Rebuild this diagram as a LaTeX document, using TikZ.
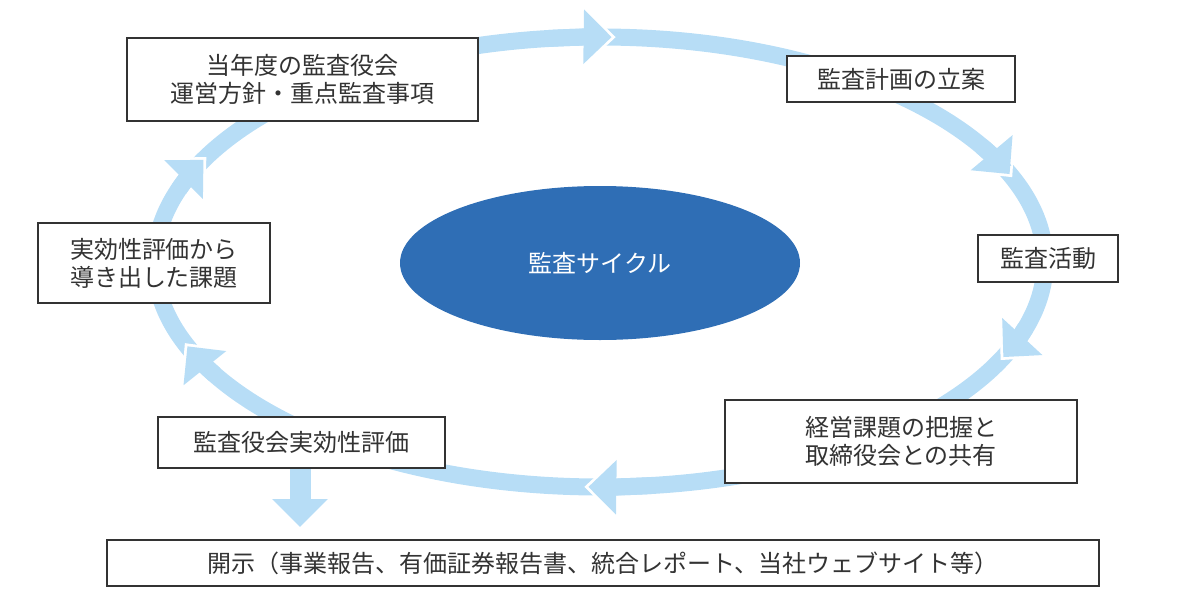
\documentclass[tikz,border=0pt]{standalone}
\usepackage{fontspec}
\setmainfont{Noto Sans CJK JP}
\usetikzlibrary{arrows.meta,shapes.geometric}
\definecolor{ringblue}{HTML}{B7DDF6}
\definecolor{cycleblue}{HTML}{2F6EB5}
\definecolor{inkgray}{HTML}{333333}
\tikzset{
  stagebox/.style={draw=inkgray, line width=2pt, fill=white, text=inkgray, align=center, inner sep=0pt},
  ringband/.style={draw=ringblue, line width=17pt},
  tipblue/.style={draw=ringblue, line width=17pt, -{Triangle[width=53pt,length=28pt]}},
  tipwhite/.style={draw=white, line width=1pt, shorten >=-4pt, -{Triangle[width=61pt,length=32pt]}},
  discarrow/.style={draw=ringblue, line width=21pt, -{Triangle[width=54pt,length=28pt]}},
}
\newcommand\ringtip[1]{%
  \draw[tipwhite] ([shift={(#1+6:445pt and 225pt)}]ringc) arc[start angle=#1+6, end angle=#1, x radius=445pt, y radius=225pt];
  \draw[tipblue] ([shift={(#1+8:445pt and 225pt)}]ringc) arc[start angle=#1+8, end angle=#1, x radius=445pt, y radius=225pt];
}
\begin{document}
\begin{tikzpicture}[x=1pt, y=-1pt, font=\fontsize{24}{28}\selectfont]
    \useasboundingbox (0,0) rectangle (1200,600);
    % ring with arrows
    \coordinate (ringc) at (600,262);
    \draw[ringband] (ringc) ellipse[x radius=445pt, y radius=225pt];
    \foreach \a in {88.5,23,-25,-91.5,-158,153} {\ringtip{\a}}
    % stages
    \node[stagebox, minimum width=351pt, minimum height=83pt] (policy) at (302.5,79.5) {当年度の監査役会\\運営方針・重点監査事項};
    \node[stagebox, minimum width=228pt, minimum height=46pt] (plan) at (901,79) {監査計画の立案};
    \node[stagebox, minimum width=140pt, minimum height=47pt] (audit) at (1048,258.5) {監査活動};
    \node[stagebox, minimum width=352pt, minimum height=83pt] (share) at (901,441.5) {経営課題の把握と\\取締役会との共有};
    \node[stagebox, minimum width=287pt, minimum height=51pt] (review) at (301.5,442.5) {監査役会実効性評価};
    \node[stagebox, minimum width=232pt, minimum height=80pt] (issues) at (154,263) {実効性評価から\\導き出した課題};
    \node[stagebox, minimum width=992pt, minimum height=46pt] (disclose) at (603,563) {開示（事業報告、有価証券報告書、統合レポート、当社ウェブサイト等）};
    % disclosure arrow
    \coordinate (disctip) at (300,527);
    \draw[discarrow] (review.south -| disctip) -- (disctip);
    % centre
    \node[ellipse, fill=cycleblue, text=white, minimum width=400pt, minimum height=154pt] (cycle) at (600,263) {監査サイクル};
\end{tikzpicture}
\end{document}
